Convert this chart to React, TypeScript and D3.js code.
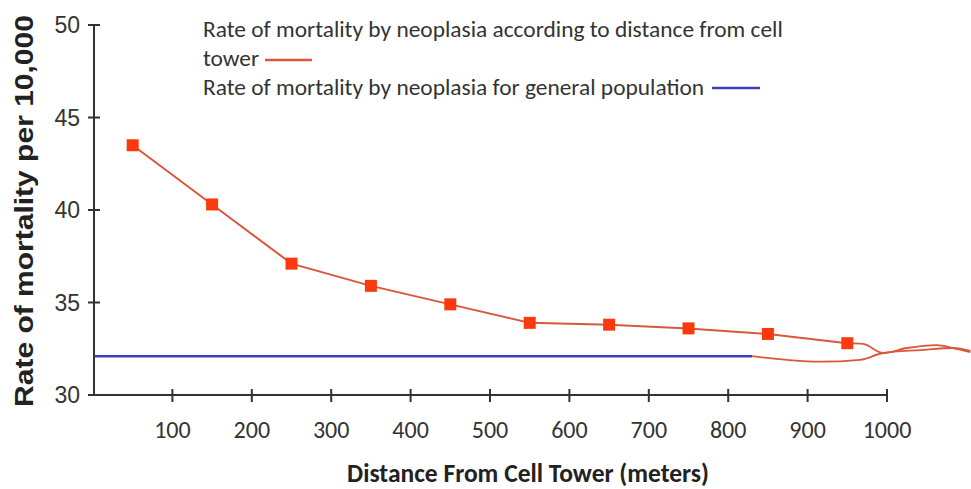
import React from 'react';
import * as d3 from 'd3';

// distance from tower (m) and mortality per 10,000
const distances = [50, 150, 250, 350, 450, 550, 650, 750, 850, 950];
const towerRates = [43.5, 40.3, 37.1, 35.9, 34.9, 33.9, 33.8, 33.6, 33.3, 32.8];
const generalRate = 32.1;
const generalEnd = 830;
// smudged tail strokes past the last marker (as in the source picture)
const upperTailX = [970, 995, 1025, 1063, 1083, 1105];
const upperTailY = [32.76, 32.27, 32.54, 32.7, 32.54, 32.32];
const lowerTailX = [830, 874, 916, 966, 995, 1042, 1083, 1105];
const lowerTailY = [32.1, 31.9, 31.8, 31.9, 32.27, 32.43, 32.54, 32.38];
const xTicks = [100, 200, 300, 400, 500, 600, 700, 800, 900, 1000];
const yTicks = [30, 35, 40, 45, 50];

const W = 971;
const H = 489;

export default function App() {
  const x = d3.scaleLinear().domain([0, 1000]).range([93, 887]);
  const y = d3.scaleLinear().domain([30, 50]).range([395, 25]);

  const mainPts: [number, number][] = distances.map((d, i) => [d, towerRates[i]]);
  const upperPts: [number, number][] = [[950, 32.8], ...upperTailX.map((d, i) => [d, upperTailY[i]] as [number, number])];
  const lowerPts: [number, number][] = lowerTailX.map((d, i) => [d, lowerTailY[i]]);

  const line = d3.line<[number, number]>().x(d => x(d[0])).y(d => y(d[1]));
  const smooth = d3.line<[number, number]>().x(d => x(d[0])).y(d => y(d[1])).curve(d3.curveMonotoneX);

  const axisColor = '#333';
  const redLine = '#d9573a';
  const calibri = 'Carlito, "Open Sans", "Noto Sans", sans-serif';
  const arial = 'Arial, "Liberation Sans", sans-serif';

  return (
    <svg width={W} height={H} style={{ position: 'absolute', left: 0, top: 0, background: '#fff' }}>
      {/* general population line */}
      <line x1={x(0)} x2={x(generalEnd)} y1={y(generalRate)} y2={y(generalRate)} stroke="#3b3fbf" strokeWidth={2.5} />
      <path d={smooth(lowerPts) || ''} fill="none" stroke={redLine} strokeWidth={1.8} />
      <path d={smooth(upperPts) || ''} fill="none" stroke={redLine} strokeWidth={1.8} />
      <path d={line(mainPts) || ''} fill="none" stroke={redLine} strokeWidth={2} />
      {mainPts.map((p, i) => (
        <rect key={i} x={x(p[0]) - 6} y={y(p[1]) - 6} width={12} height={12} fill="#fa3a0e" />
      ))}

      {/* y axis */}
      <line x1={94} x2={94} y1={y(50)} y2={y(30)} stroke={axisColor} strokeWidth={2} />
      {yTicks.map(t => (
        <g key={t}>
          <line x1={88} x2={100} y1={y(t)} y2={y(t)} stroke={axisColor} strokeWidth={2} />
          <text x={80} y={y(t)} dy="0.36em" textAnchor="end" fontFamily={arial} fontSize={23} fill="#333">{t}</text>
        </g>
      ))}
      <text transform={`translate(33,${y(40) + 1}) rotate(-90) scale(1.2,1)`} textAnchor="middle" fontFamily={arial} fontWeight="bold" fontSize={25} fill="#222">
        Rate of mortality per 10,000
      </text>

      {/* x axis */}
      <line x1={x(0)} x2={x(1000)} y1={395} y2={395} stroke={axisColor} strokeWidth={2} />
      {xTicks.map(t => (
        <g key={t}>
          <line x1={x(t)} x2={x(t)} y1={389} y2={402} stroke={axisColor} strokeWidth={2} />
          <text x={x(t)} y={438} textAnchor="middle" fontFamily={calibri} fontSize={24} fill="#333">{t}</text>
        </g>
      ))}
      <text x={528} y={482} textAnchor="middle" fontFamily={calibri} fontWeight="bold" fontSize={25.5} fill="#222">
        Distance From Cell Tower (meters)
      </text>

      {/* legend */}
      <g fontFamily={calibri} fontSize={23.4} fill="#333">
        <text x={203} y={37}>Rate of mortality by neoplasia according to distance from cell</text>
        <text x={203} y={66}>tower</text>
        <line x1={265} x2={312} y1={60} y2={60} stroke={redLine} strokeWidth={2.5} />
        <text x={203} y={95}>Rate of mortality by neoplasia for general population</text>
        <line x1={712} x2={760} y1={88} y2={88} stroke="#3b3fbf" strokeWidth={2.5} />
      </g>
    </svg>
  );
}
